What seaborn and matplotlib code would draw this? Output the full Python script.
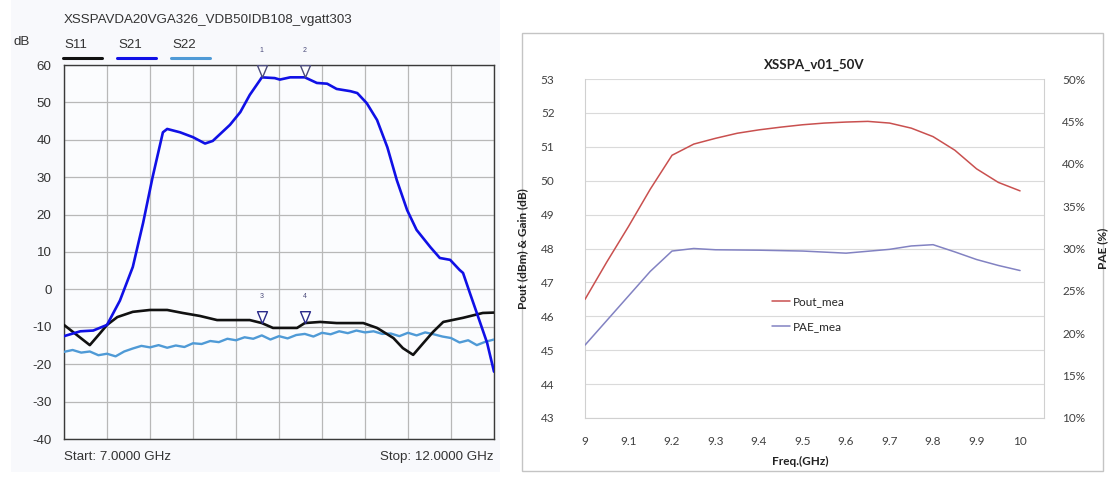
import numpy as np
import pandas as pd
import matplotlib
matplotlib.use("Agg")
import matplotlib.pyplot as plt
import seaborn as sns
from matplotlib.patches import Rectangle
from matplotlib.lines import Line2D
from matplotlib.path import Path

# ---------------- data: left panel (S-parameters) ----------------
left_title = "XSSPAVDA20VGA326_VDB50IDB108_vgatt303"
series_names = ["S11", "S21", "S22"]

s21_freq = [7.00, 7.19, 7.34, 7.50, 7.65, 7.80, 7.92, 8.03, 8.12, 8.15, 8.20, 8.35, 8.50,
            8.64, 8.73, 8.93, 9.05, 9.16, 9.28, 9.30, 9.45, 9.51, 9.63, 9.80, 9.94, 10.06,
            10.17, 10.33, 10.41, 10.52, 10.64, 10.76, 10.87, 10.99, 11.10, 11.26, 11.37,
            11.49, 11.60, 11.64, 11.72, 11.80, 11.92, 12.00]
s21_db = [-12.5, -11.2, -11.0, -9.5, -3.0, 6.0, 17.8, 30.0, 39.0, 42.0, 42.9, 42.0, 40.7,
          39.0, 39.7, 44.0, 47.4, 52.0, 56.0, 56.7, 56.5, 56.1, 56.7, 56.7, 55.2, 55.0,
          53.6, 53.0, 52.5, 49.8, 45.3, 38.0, 29.2, 21.2, 15.9, 11.3, 8.4,
          7.9, 5.2, 4.4, -1.0, -6.3, -14.3, -22.0]

s11_freq = [7.00, 7.15, 7.30, 7.42, 7.50, 7.62, 7.80, 8.00, 8.20, 8.38, 8.58, 8.78, 8.97,
            9.16, 9.30, 9.43, 9.71, 9.80, 9.98, 10.17, 10.48, 10.64, 10.83, 10.94, 11.06,
            11.18, 11.29, 11.41, 11.64, 11.87, 12.00]
s11_db = [-9.5, -12.2, -14.9, -11.7, -9.5, -7.4, -6.0, -5.5, -5.5, -6.3, -7.1, -8.2, -8.2,
          -8.2, -9.0, -10.3, -10.3, -9.0, -8.7, -9.0, -9.0, -10.3, -13.0, -15.7, -17.5,
          -14.3, -11.4, -8.7, -7.6, -6.3, -6.2]

s22_freq = [7.0, 7.1, 7.2, 7.3, 7.4, 7.5, 7.6, 7.7, 7.8, 7.9, 8.0, 8.1, 8.2, 8.3, 8.4, 8.5,
            8.6, 8.7, 8.8, 8.9, 9.0, 9.1, 9.2, 9.3, 9.4, 9.5, 9.6, 9.7, 9.8, 9.9, 10.0,
            10.1, 10.2, 10.3, 10.4, 10.5, 10.6, 10.7, 10.8, 10.9, 11.0, 11.1, 11.2, 11.3,
            11.4, 11.5, 11.6, 11.7, 11.8, 11.9, 12.0]
s22_db = [-16.7, -16.2, -16.9, -16.6, -17.6, -17.2, -17.9, -16.6, -15.8, -15.1, -15.5,
          -14.9, -15.6, -15.0, -15.4, -14.4, -14.6, -13.8, -14.1, -13.2, -13.6, -12.8,
          -13.2, -12.3, -13.4, -12.5, -13.1, -12.2, -11.9, -12.6, -11.6, -12.0, -11.2,
          -11.7, -11.0, -11.5, -11.2, -11.9, -11.8, -12.5, -11.6, -12.3, -11.5, -12.0,
          -12.6, -13.0, -14.2, -13.6, -14.9, -14.0, -13.4]

marker_freqs = [9.3, 9.8]
left_yticks = [-40, -30, -20, -10, 0, 10, 20, 30, 40, 50, 60]
left_xgrid = [7.0, 7.5, 8.0, 8.5, 9.0, 9.5, 10.0, 10.5, 11.0, 11.5, 12.0]
start_label = "Start: 7.0000 GHz"
stop_label = "Stop: 12.0000 GHz"

# ---------------- data: right panel (Pout / PAE) ----------------
right_title = "XSSPA_v01_50V"
pout_freq = [9.00, 9.05, 9.10, 9.15, 9.20, 9.25, 9.30, 9.35, 9.40, 9.45, 9.50, 9.55, 9.60,
             9.65, 9.70, 9.75, 9.80, 9.85, 9.90, 9.95, 10.00]
pout_dbm = [46.5, 47.6, 48.65, 49.75, 50.75, 51.08, 51.25, 51.4, 51.5, 51.58, 51.65, 51.7,
            51.73, 51.75, 51.7, 51.55, 51.3, 50.9, 50.35, 49.95, 49.7]
pae_freq = [9.00, 9.05, 9.10, 9.15, 9.20, 9.25, 9.30, 9.40, 9.50, 9.60, 9.70, 9.75, 9.80,
            9.85, 9.90, 9.95, 10.00]
pae_pct = [18.6, 21.5, 24.4, 27.3, 29.7, 30.0, 29.85, 29.8, 29.7, 29.45, 29.9, 30.3, 30.45,
           29.6, 28.7, 28.0, 27.4]
right_xticks = [9.0, 9.1, 9.2, 9.3, 9.4, 9.5, 9.6, 9.7, 9.8, 9.9, 10.0]
right_xticklabels = ["9", "9.1", "9.2", "9.3", "9.4", "9.5", "9.6", "9.7", "9.8", "9.9", "10"]
right_yticks = [43, 44, 45, 46, 47, 48, 49, 50, 51, 52, 53]
pae_ticks = [10, 15, 20, 25, 30, 35, 40, 45, 50]

# ---------------- figure ----------------
sns.set_theme(style="white")
plt.rcParams['font.family'] = ['Liberation Sans', 'DejaVu Sans']

W, H = 1111, 484
fig = plt.figure(figsize=(W / 100, H / 100), dpi=100)
fig.patch.set_facecolor("white")

def fx(px):
    return px / W

def fy(py):
    return 1 - py / H

LFS = 9.6  # left panel font size

# left panel background
fig.patches.append(Rectangle((fx(11), fy(472)), fx(500) - fx(11), fy(0) - fy(472),
                             transform=fig.transFigure, facecolor="#f8f9fc",
                             edgecolor="none", zorder=-10))
# right panel frame
fig.patches.append(Rectangle((fx(522), fy(471)), fx(1103) - fx(522), fy(33) - fy(471),
                             transform=fig.transFigure, facecolor="white",
                             edgecolor="#c4c4c4", lw=1.0, zorder=-10))

# ---------- left axes ----------
ax1 = fig.add_axes([fx(64), fy(439), fx(494) - fx(64), fy(65) - fy(439)])
ax1.set_facecolor("#fbfcfe")
colors = {"S11": "#111111", "S21": "#1010e6", "S22": "#4f9ad6"}
sns.lineplot(x=s22_freq, y=s22_db, ax=ax1, color=colors["S22"], lw=1.7,
             estimator=None, sort=False, zorder=3)
sns.lineplot(x=s11_freq, y=s11_db, ax=ax1, color=colors["S11"], lw=1.9,
             estimator=None, sort=False, zorder=4)
sns.lineplot(x=s21_freq, y=s21_db, ax=ax1, color=colors["S21"], lw=1.9,
             estimator=None, sort=False, zorder=5)
ax1.set_xlim(7, 12)
ax1.set_ylim(-40, 60)
ax1.set_xticks(left_xgrid)
ax1.set_xticklabels([])
ax1.set_yticks(left_yticks)
ax1.set_yticklabels([str(v) for v in left_yticks], fontsize=LFS, color="#333333")
ax1.tick_params(axis="both", length=0, pad=9)
ax1.grid(True, color="#b8b8b8", lw=0.9)
for sp in ax1.spines.values():
    sp.set_color("#3a3a3a")
    sp.set_linewidth(1.0)
ax1.set_xlabel("")
ax1.set_ylabel("")

# markers (inverted triangles, apex on trace)
tri = Path([(-0.42, 1.0), (0.42, 1.0), (0.0, 0.0), (-0.42, 1.0)],
           [Path.MOVETO, Path.LINETO, Path.LINETO, Path.CLOSEPOLY])
for i, f in enumerate(marker_freqs):
    y21 = float(np.interp(f, s21_freq, s21_db))
    ax1.plot([f], [y21], marker=tri, ms=17, mfc="white", mec="#4a4a7a", mew=1.0,
             ls="none", clip_on=False, zorder=8)
    ax1.annotate(str(i + 1), (f, y21), xytext=(0, 19), textcoords="offset points",
                 ha="center", va="center", fontsize=5, color="#4a4a7a",
                 annotation_clip=False)
    y11 = float(np.interp(f, s11_freq, s11_db))
    ax1.plot([f], [y11], marker=tri, ms=17, mfc="white", mec="#2a2a8a", mew=1.0,
             ls="none", clip_on=False, zorder=8)
    ax1.annotate(str(i + 3), (f, y11), xytext=(0, 19), textcoords="offset points",
                 ha="center", va="center", fontsize=5, color="#4a4a7a",
                 annotation_clip=False)

# left panel texts
fig.text(fx(64), fy(20), left_title, fontsize=LFS, color="#333333", ha="left", va="center")
fig.text(fx(14), fy(42), "dB", fontsize=LFS, color="#333333", ha="left", va="center")
leg_x = [64, 118, 172]
for name, x0 in zip(series_names, leg_x):
    fig.text(fx(x0), fy(45), name, fontsize=LFS, color="#333333", ha="left", va="center")
    fig.add_artist(Line2D([fx(x0 - 1), fx(x0 + 38)], [fy(58), fy(58)],
                          transform=fig.transFigure, color=colors[name], lw=2.2))
fig.text(fx(64), fy(457), start_label, fontsize=LFS, color="#333333", ha="left", va="center")
fig.text(fx(494), fy(457), stop_label, fontsize=LFS, color="#333333", ha="right", va="center")

# ---------- right axes ----------
rfont = ["Lato", "DejaVu Sans"]
ax2 = fig.add_axes([fx(585), fy(418), fx(1044) - fx(585), fy(79) - fy(418)])
ax2.set_facecolor("white")
sns.lineplot(x=pout_freq, y=pout_dbm, ax=ax2, color="#c9504f", lw=1.1,
             estimator=None, sort=False, label="Pout_mea", legend=False, zorder=4)
ax2.set_xlim(9, 10.055)
ax2.set_ylim(43, 53)
ax2.set_yticks(right_yticks)
ax2.set_yticklabels([str(v) for v in right_yticks], fontsize=8.5, color="#404040",
                    family=rfont)
ax2.set_xticks(right_xticks)
ax2.set_xticklabels(right_xticklabels, fontsize=8.5, color="#404040", family=rfont)
ax2.tick_params(axis="y", length=0, pad=22)
ax2.tick_params(axis="x", length=3, color="#d0d0d0", pad=10)
ax2.grid(True, axis="y", color="#dadada", lw=0.8)
ax2.grid(False, axis="x")
for name, sp in ax2.spines.items():
    sp.set_color("#d0d0d0")
    sp.set_linewidth(0.8)
ax2.spines["top"].set_visible(False)
ax2.set_title(right_title, fontsize=9.5, fontweight="bold", family=rfont, pad=7,
              color="#222222")
ax2.set_xlabel("Freq.(GHz)", fontsize=8.5, fontweight="bold", family=rfont,
               color="#222222")
ax2.xaxis.set_label_coords(0.468, -0.112)
ax2.set_ylabel("Pout (dBm) & Gain (dB)", fontsize=8.5, fontweight="bold", family=rfont,
               color="#222222")
ax2.yaxis.set_label_coords(-0.124, 0.5)

ax3 = ax2.twinx()
sns.lineplot(x=pae_freq, y=pae_pct, ax=ax3, color="#8282c2", lw=1.1,
             estimator=None, sort=False, label="PAE_mea", legend=False, zorder=4)
ax3.set_ylim(10, 50)
ax3.set_yticks(pae_ticks)
ax3.set_yticklabels([f"{v}%" for v in pae_ticks], fontsize=8.5, color="#404040",
                    family=rfont)
ax3.tick_params(axis="y", length=0, pad=13)
ax3.grid(False)
for name, sp in ax3.spines.items():
    sp.set_visible(False)
ax3.set_ylabel("PAE (%)", fontsize=8.5, fontweight="bold", family=rfont, color="#222222")
ax3.yaxis.set_label_coords(1.115, 0.5)

h2, l2 = ax2.get_legend_handles_labels()
h3, l3 = ax3.get_legend_handles_labels()
ax3.legend(h2 + h3, l2 + l3, loc="upper left", bbox_to_anchor=(fx(766), fy(290)),
           bbox_transform=fig.transFigure, frameon=False, borderpad=0,
           handlelength=1.5, handletextpad=0.3, labelspacing=1.2,
           prop={"family": rfont, "size": 8.5})

fig.savefig("out.png", dpi=100)
